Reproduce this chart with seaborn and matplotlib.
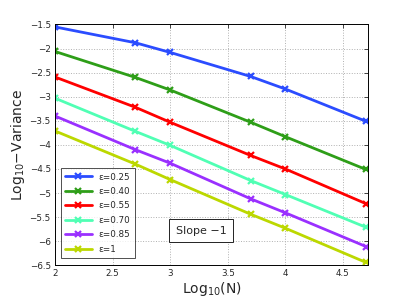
import numpy as np
import pandas as pd
import matplotlib
matplotlib.use('Agg')
import matplotlib.pyplot as plt
import seaborn as sns

# x positions: log10 of the sample sizes
log_n = [2.0, 2.699, 3.0, 3.699, 4.0, 4.699]

# log10 variance per epsilon
var_025 = [-1.55, -1.88, -2.08, -2.58, -2.84, -3.51]
var_040 = [-2.06, -2.60, -2.86, -3.53, -3.83, -4.51]
var_055 = [-2.59, -3.22, -3.53, -4.22, -4.50, -5.22]
var_070 = [-3.03, -3.72, -4.01, -4.74, -5.03, -5.71]
var_085 = [-3.40, -4.10, -4.38, -5.12, -5.41, -6.11]
var_100 = [-3.71, -4.40, -4.72, -5.44, -5.73, -6.44]

labels = ['ε=0.25', 'ε=0.40', 'ε=0.55', 'ε=0.70', 'ε=0.85', 'ε=1']
colors = ['#2b4cff', '#2e9e18', '#ff0000', '#50ffb4', '#9a30ff', '#bcd800']

series = [var_025, var_040, var_055, var_070, var_085, var_100]
df = pd.concat([
    pd.DataFrame({'logN': log_n, 'logVar': s, 'eps': lab})
    for s, lab in zip(series, labels)
])

sns.set_style('white')
plt.rcParams['font.family'] = ['DejaVu Sans']

fig, ax = plt.subplots(figsize=(4.07, 3.06), dpi=100)
fig.subplots_adjust(left=0.135, right=0.905, top=0.92, bottom=0.133)

sns.lineplot(data=df, x='logN', y='logVar', hue='eps', palette=colors,
             marker='x', markersize=4.5, markeredgewidth=1.6, linewidth=2,
             ax=ax)
# seaborn paints marker edges white; give the x markers the line colour
for ln in ax.get_lines():
    ln.set_markeredgecolor(ln.get_color())

ax.set_xlim(2, 4.72)
ax.set_ylim(-6.5, -1.5)
ax.set_xticks([2, 2.5, 3, 3.5, 4, 4.5])
ax.set_xticklabels(['2', '2.5', '3', '3.5', '4', '4.5'])
ax.set_yticks(np.arange(-6.5, -1.4, 0.5))
ax.set_yticklabels(['−6.5', '−6', '−5.5', '−5', '−4.5', '−4', '−3.5',
                    '−3', '−2.5', '−2', '−1.5'])
ax.tick_params(direction='in', top=True, right=True, labelsize=6.3, length=3,
               width=0.6, pad=3)
ax.grid(True, linestyle=':', color='#b0b0b0', linewidth=0.7)
for sp in ax.spines.values():
    sp.set_color('black')
    sp.set_linewidth(0.7)

ax.set_xlabel('Log$_{10}$(N)', fontsize=10, labelpad=1)
ax.set_ylabel('Log$_{10}$−Variance', fontsize=10, labelpad=2)

leg = ax.legend(loc='lower left', fontsize=6.3, frameon=True, fancybox=False,
                edgecolor='black', handlelength=3, borderpad=0.5,
                labelspacing=0.62, bbox_to_anchor=(0.005, 0.012))
leg.get_frame().set_linewidth(0.6)
for h in leg.legend_handles:
    h.set_markeredgecolor(h.get_color())

ax.text(3.27, -5.78, 'Slope −1', fontsize=8, ha='center', va='center',
        bbox=dict(boxstyle='square,pad=0.6', facecolor='white',
                  edgecolor='black', linewidth=0.6))

fig.savefig('out.png', dpi=100)
